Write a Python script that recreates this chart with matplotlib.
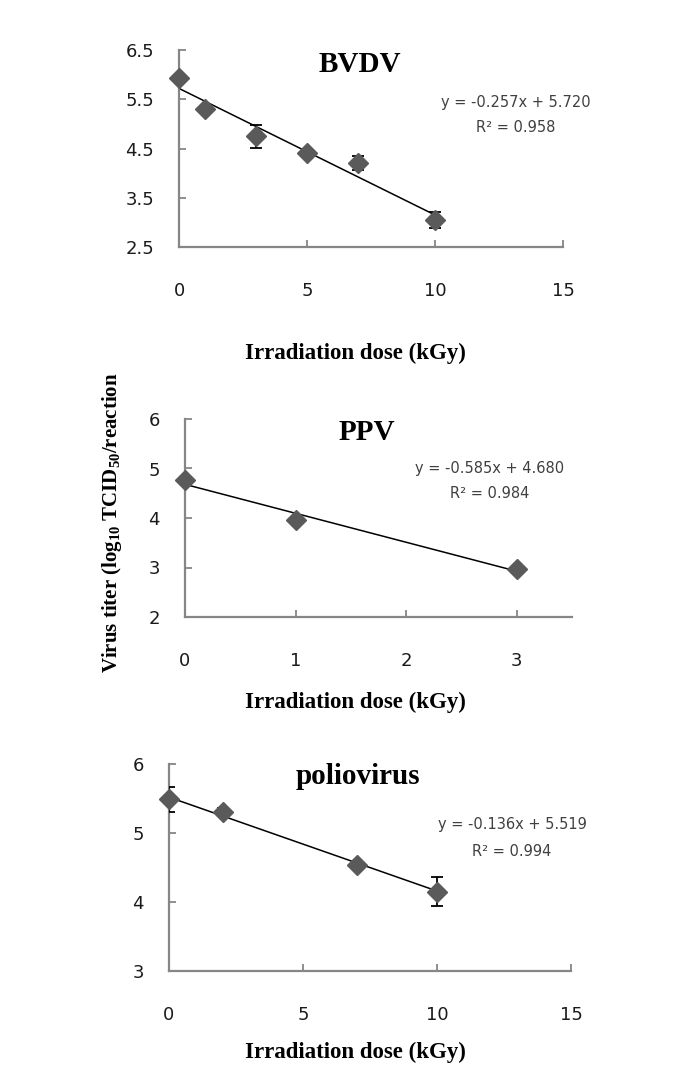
import numpy as np
import matplotlib
matplotlib.use("Agg")
import matplotlib.pyplot as plt

# ── Data ────────────────────────────────────────────────────────────────────
bvdv_dose  = [0, 1, 3, 5, 7, 10]
bvdv_titer = [5.93, 5.30, 4.75, 4.40, 4.21, 3.05]
bvdv_err   = [0.0, 0.0, 0.23, 0.07, 0.14, 0.17]
bvdv_fit   = (-0.257, 5.720, 0.958)

ppv_dose  = [0, 1, 3]
ppv_titer = [4.77, 3.96, 2.97]
ppv_err   = [0.08, 0.0, 0.03]
ppv_fit   = (-0.585, 4.680, 0.984)

polio_dose  = [0, 2, 7, 10]
polio_titer = [5.49, 5.31, 4.53, 4.15]
polio_err   = [0.18, 0.05, 0.0, 0.21]
polio_fit   = (-0.136, 5.519, 0.994)

# ── Layout (pixels of a 685 x 1081 canvas) ──────────────────────────────────
W, H = 685, 1081
GRAY = "#868686"
MARK = "#5a5a5a"
SERIF = "Liberation Serif"

plt.rcParams["font.family"] = "DejaVu Sans"
plt.rcParams["mathtext.fontset"] = "custom"
plt.rcParams["mathtext.rm"] = "Liberation Serif:bold"
plt.rcParams["mathtext.it"] = "Liberation Serif:bold"
plt.rcParams["mathtext.bf"] = "Liberation Serif:bold"

fig = plt.figure(figsize=(W / 100, H / 100), dpi=100, facecolor="white")


def px_axes(x0, y0, x1, y1):
    # x0,x1 left/right, y0 top, y1 bottom in pixels
    return fig.add_axes([x0 / W, 1 - y1 / H, (x1 - x0) / W, (y1 - y0) / H])


def fx(x): return x / W
def fy(y): return 1 - y / H


def panel(box, dose, titer, err, fit, xlim, xticks, ylim, yticks, yfmt,
          title, title_xy, eq_xy, xlabel_y):
    ax = px_axes(*box)
    slope, icpt, r2 = fit
    xs = np.array([min(dose), max(dose)])
    ax.plot(xs, icpt + slope * xs, color="black", lw=1.1, zorder=2)
    ax.errorbar(dose, titer, yerr=err, fmt="none", ecolor="black",
                elinewidth=1.3, capsize=4, capthick=1.3, zorder=3)
    ax.plot(dose, titer, ls="none", marker="D", ms=10, color=MARK,
            mec=MARK, zorder=4, clip_on=False)
    ax.set_xlim(*xlim)
    ax.set_ylim(*ylim)
    ax.set_xticks(xticks)
    ax.set_yticks(yticks)
    ax.set_yticklabels([yfmt % v for v in yticks])
    for s in ["top", "right"]:
        ax.spines[s].set_visible(False)
    for s in ["left", "bottom"]:
        ax.spines[s].set_color(GRAY)
        ax.spines[s].set_linewidth(1.6)
    ax.tick_params(direction="in", length=5, width=1.3, color=GRAY,
                   labelsize=13, labelcolor="#1a1a1a")
    ax.tick_params(axis="x", pad=25)
    ax.tick_params(axis="y", pad=18)
    ax.set_facecolor("none")

    fig.text(fx(title_xy[0]), fy(title_xy[1]), title, family=SERIF,
             fontweight="bold", fontsize=21, ha="center", va="center")
    fig.text(fx(eq_xy[0]), fy(eq_xy[1]),
             f"y = {slope:.3f}x + {icpt:.3f}",
             fontsize=10.5, color="#404040", ha="center", va="center")
    fig.text(fx(eq_xy[0]), fy(eq_xy[1] + 26), f"R² = {r2:.3f}",
             fontsize=10.5, color="#404040", ha="center", va="center")
    fig.text(fx(355), fy(xlabel_y), "Irradiation dose (kGy)", family=SERIF,
             fontweight="bold", fontsize=16.5, ha="center", va="center")
    return ax


panel((179, 50, 563, 247), bvdv_dose, bvdv_titer, bvdv_err, bvdv_fit,
      (0, 15), [0, 5, 10, 15], (2.5, 6.5), [2.5, 3.5, 4.5, 5.5, 6.5], "%.1f",
      "BVDV", (360, 65), (516, 102), 353)

panel((185, 419, 572, 617), ppv_dose, ppv_titer, ppv_err, ppv_fit,
      (0, 3.5), [0, 1, 2, 3], (2, 6), [2, 3, 4, 5, 6], "%d",
      "PPV", (367, 433), (490, 468), 702)

panel((169, 764, 571, 971), polio_dose, polio_titer, polio_err, polio_fit,
      (0, 15), [0, 5, 10, 15], (3, 6), [3, 4, 5, 6], "%d",
      "poliovirus", (358, 777), (512, 825), 1052)

fig.text(fx(112), fy(523), r"Virus titer (log$_{10}$ TCID$_{50}$/reaction",
         family=SERIF, fontweight="bold", fontsize=15, rotation=90,
         ha="center", va="center")

fig.savefig("out.png", dpi=100, facecolor="white")
